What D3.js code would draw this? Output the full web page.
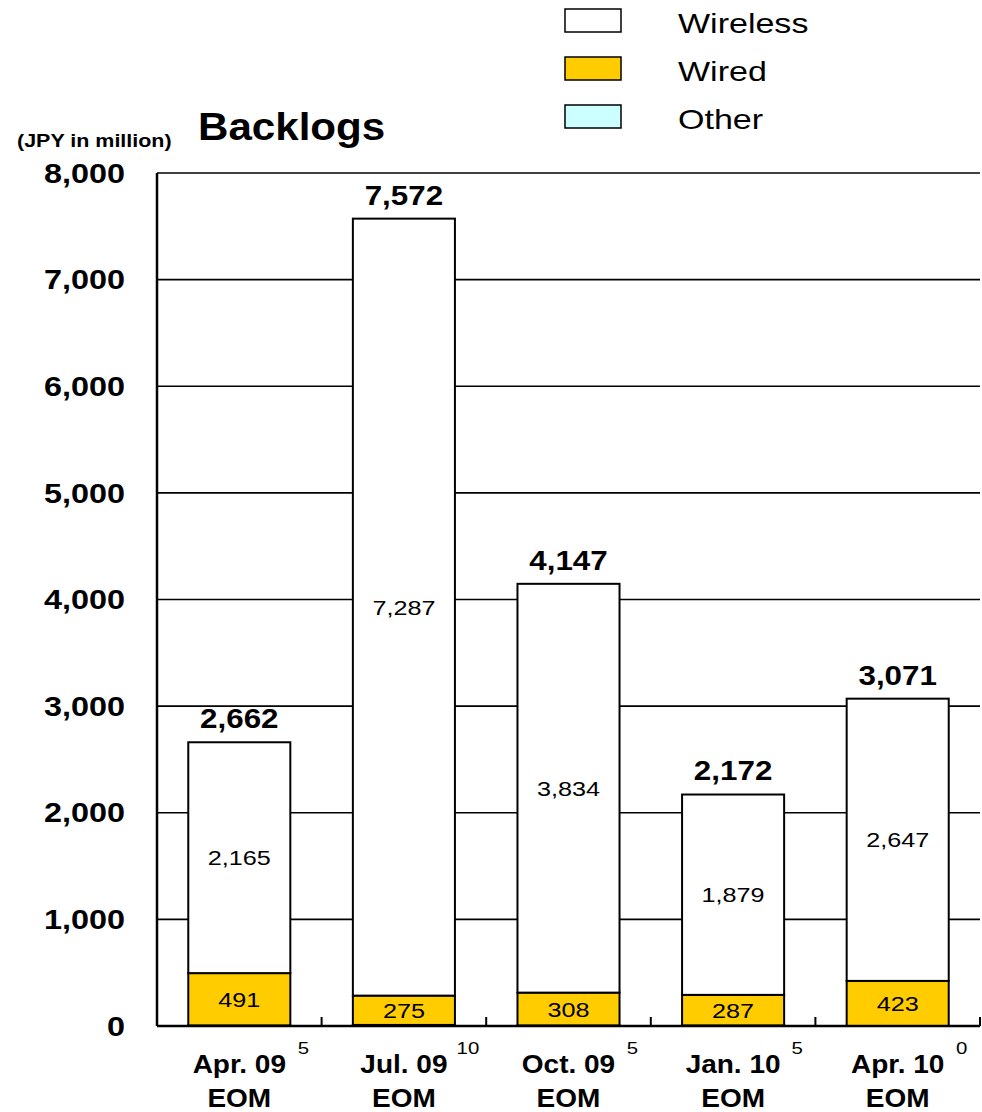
<!DOCTYPE html>
<html><head><meta charset="utf-8">
<script src="https://cdn.jsdelivr.net/npm/d3@7"></script>
<style>body{margin:0;background:#fff}svg{display:block;font-family:"Liberation Sans",Arial,sans-serif}</style>
</head><body>
<svg id="c" width="982" height="1112"></svg>
<script>
const categories = ["Apr. 09", "Jul. 09", "Oct. 09", "Jan. 10", "Apr. 10"];
const subLabels = ["EOM", "EOM", "EOM", "EOM", "EOM"];
const other = [5, 10, 5, 5, 0];
const wired = [491, 275, 308, 287, 423];
const wireless = [2165, 7287, 3834, 1879, 2647];
const totals = [2662, 7572, 4147, 2172, 3071];
const yTicks = [0, 1000, 2000, 3000, 4000, 5000, 6000, 7000, 8000];
const seriesNames = ["Wireless", "Wired", "Other"];
const seriesColors = {Wireless: "#FFFFFF", Wired: "#FFCC00", Other: "#CCFFFF"};

const svg = d3.select("#c");
const L = 157, R = 980, T = 173, B = 1026;
const x = d3.scaleBand().domain(categories).range([L, R]).padding(0);
const y = d3.scaleLinear().domain([0, 8000]).range([B, T]);
const bw = x.bandwidth() * 0.62;
const fmt = d3.format(",");
const cx = d => x(d) + x.bandwidth() / 2;

// text helper: horizontally stretched text like the reference
function label(g, data, fx, fy, txt, opt) {
  return g.selectAll(null).data(data).join("text")
    .attr("transform", (d, i) => `translate(${fx(d, i)},${fy(d, i)}) scale(${opt.sx || 1},1)`)
    .attr("dy", opt.dy || null)
    .attr("text-anchor", opt.anchor || "middle")
    .attr("font-weight", opt.bold ? "bold" : null)
    .attr("font-size", opt.size)
    .text(txt);
}

// gridlines
svg.append("g").selectAll("line").data(yTicks.filter(d => d > 0)).join("line")
  .attr("x1", L).attr("x2", R).attr("y1", d => y(d)).attr("y2", d => y(d))
  .attr("stroke", "#000").attr("stroke-width", 1.6);

// y labels
label(svg.append("g"), yTicks, () => 125, d => y(d), d => fmt(d),
  {anchor: "end", bold: true, size: 27, sx: 1.2, dy: "0.36em"});

// stacks
const rows = categories.map((c, i) => ({cat: c, Other: other[i], Wired: wired[i], Wireless: wireless[i]}));
const stack = d3.stack().keys(["Other", "Wired", "Wireless"])(rows);
const gBars = svg.append("g");
stack.forEach(layer => {
  gBars.selectAll(null).data(layer).join("rect")
    .attr("x", d => x(d.data.cat) + (x.bandwidth() - bw) / 2)
    .attr("width", bw)
    .attr("y", d => y(d[1]))
    .attr("height", d => Math.max(0, y(d[0]) - y(d[1])))
    .attr("fill", seriesColors[layer.key])
    .attr("stroke", "#000").attr("stroke-width", 2);
});

// axes lines
svg.append("line").attr("x1", L).attr("x2", L).attr("y1", T).attr("y2", B).attr("stroke", "#000").attr("stroke-width", 2.5);
svg.append("line").attr("x1", L).attr("x2", R).attr("y1", B).attr("y2", B).attr("stroke", "#000").attr("stroke-width", 2.5);
svg.append("g").selectAll("line").data(categories).join("line")
  .attr("x1", d => x(d) + x.bandwidth()).attr("x2", d => x(d) + x.bandwidth())
  .attr("y1", B).attr("y2", B - 9).attr("stroke", "#000").attr("stroke-width", 2);

// labels in segments
label(svg.append("g"), rows, d => cx(d.cat), (d, i) => y(other[i] + wired[i] / 2), d => fmt(d.Wired),
  {size: 21, sx: 1.2, dy: "0.36em"});
label(svg.append("g"), rows, d => cx(d.cat), (d, i) => y(other[i] + wired[i] + wireless[i] / 2), d => fmt(d.Wireless),
  {size: 21, sx: 1.2, dy: "0.36em"});
label(svg.append("g"), rows, d => cx(d.cat), (d, i) => y(totals[i]) - 14, (d, i) => fmt(totals[i]),
  {bold: true, size: 28, sx: 1.12});
// other labels
label(svg.append("g"), rows, d => cx(d.cat) + bw / 2 + 13, () => 1054, d => fmt(d.Other),
  {size: 17, sx: 1.2});

// x labels
label(svg.append("g"), categories, d => cx(d), () => 1073, d => d, {bold: true, size: 25, sx: 1.12});
label(svg.append("g"), subLabels, (d, i) => cx(categories[i]), () => 1107, d => d, {bold: true, size: 25, sx: 1.12});

// title and unit
label(svg.append("g"), ["Backlogs"], () => 198, () => 140, d => d, {anchor: "start", bold: true, size: 39, sx: 1.08});
label(svg.append("g"), ["(JPY in million)"], () => 17, () => 147, d => d, {anchor: "start", bold: true, size: 19, sx: 1.13});

// legend
const lg = svg.append("g");
lg.selectAll("rect").data(seriesNames).join("rect")
  .attr("x", 565).attr("y", (d, i) => 9 + i * 48).attr("width", 56).attr("height", 23)
  .attr("fill", d => seriesColors[d]).attr("stroke", "#000").attr("stroke-width", 1.5);
label(lg, seriesNames, () => 678, (d, i) => 33 + i * 48, d => d, {anchor: "start", size: 27, sx: 1.26});
</script>
</body></html>
